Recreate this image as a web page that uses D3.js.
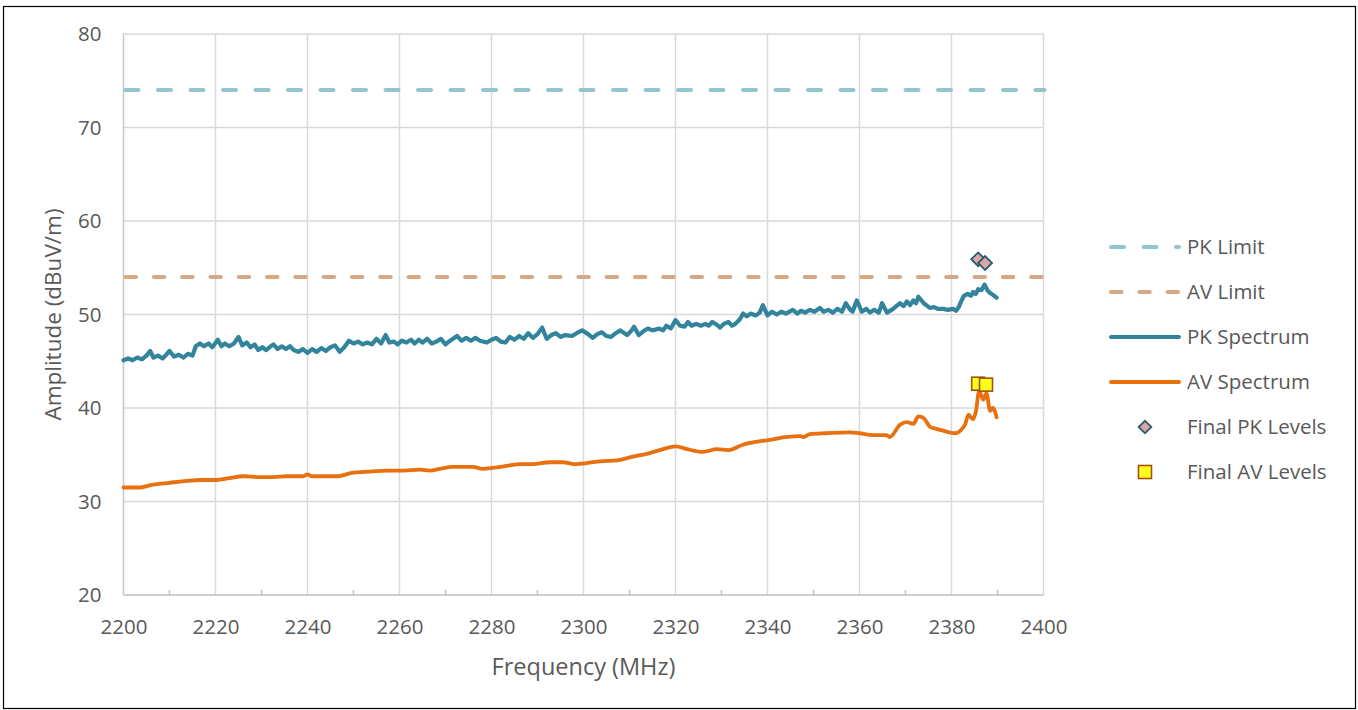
<!DOCTYPE html>
<html>
<head>
<meta charset="utf-8">
<script src="https://cdnjs.cloudflare.com/ajax/libs/d3/7.8.5/d3.min.js"></script>
<style>
  body { margin: 0; background: #fff; }
  text { font-family: "Open Sans", sans-serif; fill: #595959; }
</style>
</head>
<body>
<div id="chart-area"></div>
<script>
// Limits (dBuV/m)
var pkLimit = 74;
var avLimit = 54;

// PK spectrum
var pkFreq = [2200,2201,2202,2203,2204,2205,2205.8,2206.5,2207.5,2208.5,2209.3,2210,2211,2212,2213,2214,2215,2215.7,2216.6,2217.5,
  2218.5,2219.3,2220.5,2221.3,2222,2223,2224,2225,2225.8,2226.8,2227.6,2228.5,2229.3,2230.2,2231,2232,2232.6,2233.5,2234.4,2235.3,
  2236.2,2237,2238,2239,2240,2241,2242,2243,2244,2245,2246,2247,2248,2249,2250,2251,2252,2253,2254,2255,
  2256,2257,2257.8,2258.8,2259.6,2260.5,2261.5,2262.5,2263.3,2264.2,2265,2266,2267,2268,2269,2270,2271,2272.5,2273.5,2274.5,
  2275.5,2276.5,2277.5,2279,2280,2281,2282,2283,2284,2285,2286,2287,2288,2289,2290,2291,2292,2293,2294,2295,
  2296,2297.5,2298.5,2299.7,2301,2302,2303,2304,2305,2306,2307,2308,2309.5,2310.3,2311,2312,2313,2314,2315,2316.5,
  2317.3,2318,2319,2320,2321,2322,2322.7,2323.5,2324.5,2325.5,2326.5,2327.2,2328,2329,2329.7,2330.5,2331.5,2332.3,2333,2334,
  2334.7,2335.5,2336.3,2337.5,2338.3,2339,2340,2341,2342,2343,2344,2345.5,2346.5,2347.3,2348.2,2349.2,2350.2,2351.4,2352.2,2353.2,
  2354.2,2355.2,2356.2,2357,2358,2358.5,2359.4,2360.5,2361.5,2362.3,2363.2,2364.2,2364.9,2366,2367.3,2368,2368.8,2369.6,2370.3,2371,
  2371.7,2372.3,2372.8,2374,2375.3,2376.2,2377,2378.2,2379.2,2380.3,2381,2381.6,2382,2382.7,2383.5,2384.2,2384.7,2385.3,2385.8,2386.5,
  2387.2,2387.8,2388.4,2389,2389.8];
var pkLevel = [45.1,45.3,45.1,45.4,45.2,45.6,46.1,45.4,45.6,45.3,45.7,46.1,45.5,45.7,45.4,45.8,45.6,46.6,46.9,46.6,
  46.9,46.5,47.3,46.6,46.9,46.6,46.9,47.6,46.7,47.0,46.5,46.8,46.2,46.5,46.2,46.6,46.8,46.3,46.6,46.3,
  46.6,46.2,46.0,46.3,45.9,46.3,46.0,46.4,46.1,46.5,46.7,46.0,46.5,47.2,46.9,47.1,46.8,47.0,46.8,47.4,
  46.9,47.8,47.0,47.1,46.8,47.2,47.0,47.3,46.9,47.3,47.0,47.4,46.9,47.1,47.4,46.8,47.2,47.7,47.2,47.5,
  47.2,47.5,47.2,47.0,47.3,47.5,47.1,47.0,47.6,47.3,47.7,47.4,48.0,47.5,47.9,48.6,47.4,47.8,48.0,47.6,
  47.8,47.7,48.0,48.3,47.9,47.5,47.9,48.1,47.7,47.6,48.0,48.3,47.8,48.2,48.7,47.8,48.2,48.5,48.3,48.5,
  48.3,48.8,48.5,49.4,48.8,48.7,49.2,48.8,49.0,48.8,49.0,48.8,49.2,48.9,48.6,49.0,49.2,48.8,49.0,49.5,
  50.1,49.8,50.1,49.9,50.2,51.0,49.9,50.3,50.0,50.3,50.1,50.5,50.1,50.4,50.2,50.5,50.3,50.7,50.3,50.5,
  50.2,50.6,50.3,51.2,50.5,50.3,51.5,50.3,50.6,50.2,50.5,50.2,51.2,50.2,50.6,50.9,51.2,50.9,51.4,51.0,
  51.5,51.2,51.9,51.2,50.7,50.8,50.6,50.6,50.5,50.6,50.4,50.8,51.3,52.0,52.2,52.0,52.4,52.2,52.7,52.6,
  53.2,52.6,52.3,52.1,51.8];

// AV spectrum
var avFreq = [2200,2203.6,2206.4,2210,2213.8,2216.6,2220.2,2223,2226,2229.7,2232.5,2235.5,2239,2240,2241,2246.4,2250,2253.6,2257.3,2260.8,
  2264.5,2266.6,2268.8,2271.6,2276,2278,2280.3,2283.3,2286.2,2289,2292.7,2295.6,2298,2300.7,2303.6,2307.3,2310.8,2313.8,2317.3,2320,
  2322.5,2326,2329,2331.5,2334.8,2337.8,2340.6,2344.3,2347.1,2347.8,2349.2,2352.8,2357.8,2360,2362.9,2365.8,2366.6,2368.8,2370.3,2371.7,
  2372.8,2374,2375.3,2376.5,2378,2379.5,2381,2382,2383,2383.7,2384.6,2385.3,2386,2386.9,2387.6,2388.4,2389,2389.8];
var avLevel = [31.5,31.5,31.8,32.0,32.2,32.3,32.3,32.5,32.7,32.6,32.6,32.7,32.7,32.9,32.7,32.7,33.1,33.2,33.3,33.3,
  33.4,33.3,33.5,33.7,33.7,33.5,33.6,33.8,34.0,34.0,34.2,34.2,34.0,34.1,34.3,34.4,34.8,35.1,35.6,35.9,
  35.6,35.3,35.6,35.5,36.1,36.4,36.6,36.9,37.0,36.9,37.2,37.3,37.4,37.3,37.1,37.1,36.9,38.2,38.5,38.3,
  39.1,38.9,38.0,37.8,37.6,37.4,37.3,37.6,38.3,39.3,38.8,39.6,41.8,40.9,41.6,39.7,40.0,39.0];

// Final measured levels
var finalPkFreq = [2385.8, 2387.3];
var finalPkLevel = [55.9, 55.5];
var finalAvFreq = [2385.8, 2387.5];
var finalAvLevel = [42.6, 42.5];

// Axis ticks
var xTicks = [2200,2220,2240,2260,2280,2300,2320,2340,2360,2380,2400];
var xMinorTicks = [2210,2230,2250,2270,2290,2310,2330,2350,2370,2390];
var yTicks = [20,30,40,50,60,70,80];

var legendNames = ["PK Limit", "AV Limit", "PK Spectrum", "AV Spectrum", "Final PK Levels", "Final AV Levels"];

var W = 1358, H = 710;
var plot = { left: 123.5, right: 1043.5, top: 34, bottom: 595 };

var colPkLimit = "#93c4d0",
    colAvLimit = "#d5a886",
    colPk = "#31849b",
    colAv = "#e8700e";

var svg = d3.select("#chart-area").append("svg")
    .attr("width", W)
    .attr("height", H);

// outer frame
svg.append("rect")
    .attr("x", 3.5).attr("y", 6.5)
    .attr("width", 1352).attr("height", 702)
    .attr("fill", "none")
    .attr("stroke", "#000")
    .attr("stroke-width", 1.2);

var x = d3.scaleLinear().domain([2200, 2400]).range([plot.left, plot.right]);
var y = d3.scaleLinear().domain([20, 80]).range([plot.bottom, plot.top]);

// Gridlines
svg.append("g").selectAll("line").data(yTicks.slice(1)).enter().append("line")
    .attr("x1", plot.left).attr("x2", plot.right)
    .attr("y1", function(d){ return y(d); }).attr("y2", function(d){ return y(d); })
    .attr("stroke", "#d9d9d9").attr("stroke-width", 1.5);

svg.append("g").selectAll("line").data(xTicks.slice(1)).enter().append("line")
    .attr("x1", function(d){ return x(d); }).attr("x2", function(d){ return x(d); })
    .attr("y1", plot.top).attr("y2", plot.bottom)
    .attr("stroke", "#d9d9d9").attr("stroke-width", 1.5);

// left and bottom axis lines
svg.append("line")
    .attr("x1", plot.left).attr("x2", plot.left)
    .attr("y1", plot.top).attr("y2", plot.bottom)
    .attr("stroke", "#c6c6c6").attr("stroke-width", 1.5);
svg.append("line")
    .attr("x1", plot.left).attr("x2", plot.right)
    .attr("y1", plot.bottom).attr("y2", plot.bottom)
    .attr("stroke", "#bfbfbf").attr("stroke-width", 1.5);

// minor ticks (inside)
svg.append("g").selectAll("line").data(xMinorTicks).enter().append("line")
    .attr("x1", function(d){ return x(d); }).attr("x2", function(d){ return x(d); })
    .attr("y1", plot.bottom - 5).attr("y2", plot.bottom)
    .attr("stroke", "#bfbfbf").attr("stroke-width", 1.5);

// Axis labels via d3 axes
var xAxis = svg.append("g")
    .attr("transform", "translate(0," + plot.bottom + ")")
    .call(d3.axisBottom(x).tickValues(xTicks).tickSize(0).tickPadding(24).tickFormat(d3.format("d")));
var yAxis = svg.append("g")
    .attr("transform", "translate(" + plot.left + ",0)")
    .call(d3.axisLeft(y).tickValues(yTicks).tickSize(0).tickPadding(22));

[xAxis, yAxis].forEach(function(a){
    a.select(".domain").remove();
    a.selectAll("text")
        .attr("font-family", "Open Sans")
        .attr("font-size", "20.5px")
        .attr("fill", "#595959");
});

svg.append("text")
    .attr("x", (plot.left + plot.right) / 2)
    .attr("y", 675)
    .attr("text-anchor", "middle")
    .attr("font-size", "23.5px")
    .text("Frequency (MHz)");

svg.append("text")
    .attr("transform", "translate(61," + ((plot.top + plot.bottom) / 2) + ") rotate(-90)")
    .attr("text-anchor", "middle")
    .attr("font-size", "22.5px")
    .text("Amplitude (dBuV/m)");

// Limit lines
var pkDash = "13,19.5", avDash = "10.5,17.8";
svg.append("line")
    .attr("x1", plot.left + 2).attr("x2", plot.right + 1)
    .attr("y1", y(pkLimit)).attr("y2", y(pkLimit))
    .attr("stroke", colPkLimit).attr("stroke-width", 4)
    .attr("stroke-linecap", "round")
    .attr("stroke-dasharray", pkDash);
svg.append("line")
    .attr("x1", plot.left + 2).attr("x2", plot.right)
    .attr("y1", y(avLimit)).attr("y2", y(avLimit))
    .attr("stroke", colAvLimit).attr("stroke-width", 4)
    .attr("stroke-linecap", "round")
    .attr("stroke-dasharray", avDash);

// Spectrum lines
var pkData = pkFreq.map(function(f, i){ return { f: f, v: pkLevel[i] }; });
var avData = avFreq.map(function(f, i){ return { f: f, v: avLevel[i] }; });

var line = d3.line()
    .x(function(d){ return x(d.f); })
    .y(function(d){ return y(d.v); });

svg.append("path")
    .attr("d", line(pkData))
    .attr("fill", "none")
    .attr("stroke", colPk)
    .attr("stroke-width", 4.2)
    .attr("stroke-linejoin", "round")
    .attr("stroke-linecap", "round");

svg.append("path")
    .attr("d", line.curve(d3.curveMonotoneX)(avData))
    .attr("fill", "none")
    .attr("stroke", colAv)
    .attr("stroke-width", 3.8)
    .attr("stroke-linejoin", "round")
    .attr("stroke-linecap", "round");

// Final level markers
var diamond = d3.symbol().type(d3.symbolSquare).size(96);
svg.append("g").selectAll("path")
    .data(finalPkFreq).enter().append("path")
    .attr("d", diamond)
    .attr("transform", function(d, i){ return "translate(" + x(d) + "," + y(finalPkLevel[i]) + ") rotate(45)"; })
    .attr("fill", "#e0a4a4")
    .attr("stroke", "#245d6c")
    .attr("stroke-width", 1.8);

svg.append("g").selectAll("rect")
    .data(finalAvFreq).enter().append("rect")
    .attr("x", function(d){ return x(d) - 6.5; })
    .attr("y", function(d, i){ return y(finalAvLevel[i]) - 6.5; })
    .attr("width", 13).attr("height", 13)
    .attr("fill", "#ffff1a")
    .attr("stroke", "#a0520f")
    .attr("stroke-width", 1.6);

// Legend
var legend = svg.append("g").attr("transform", "translate(1110,247)");
legendNames.forEach(function(name, i){
    var row = legend.append("g").attr("transform", "translate(0," + (i * 45) + ")");
    if (i < 4) {
        var l = row.append("line")
            .attr("x1", 1).attr("x2", 69)
            .attr("y1", 0).attr("y2", 0)
            .attr("stroke", [colPkLimit, colAvLimit, colPk, colAv][i])
            .attr("stroke-width", 4)
            .attr("stroke-linecap", "round");
        if (i < 2) l.attr("stroke-dasharray", i == 0 ? pkDash : avDash);
    } else if (i == 4) {
        row.append("path")
            .attr("d", d3.symbol().type(d3.symbolSquare).size(80))
            .attr("transform", "translate(35,0) rotate(45)")
            .attr("fill", "#e0a4a4").attr("stroke", "#245d6c").attr("stroke-width", 1.8);
    } else {
        row.append("rect")
            .attr("x", 28.5).attr("y", -6.5).attr("width", 13).attr("height", 13)
            .attr("fill", "#ffff1a").attr("stroke", "#a0520f").attr("stroke-width", 1.6);
    }
    row.append("text")
        .attr("x", 77)
        .attr("y", 7)
        .attr("font-size", "20.5px")
        .text(name);
});
</script>
</body>
</html>
